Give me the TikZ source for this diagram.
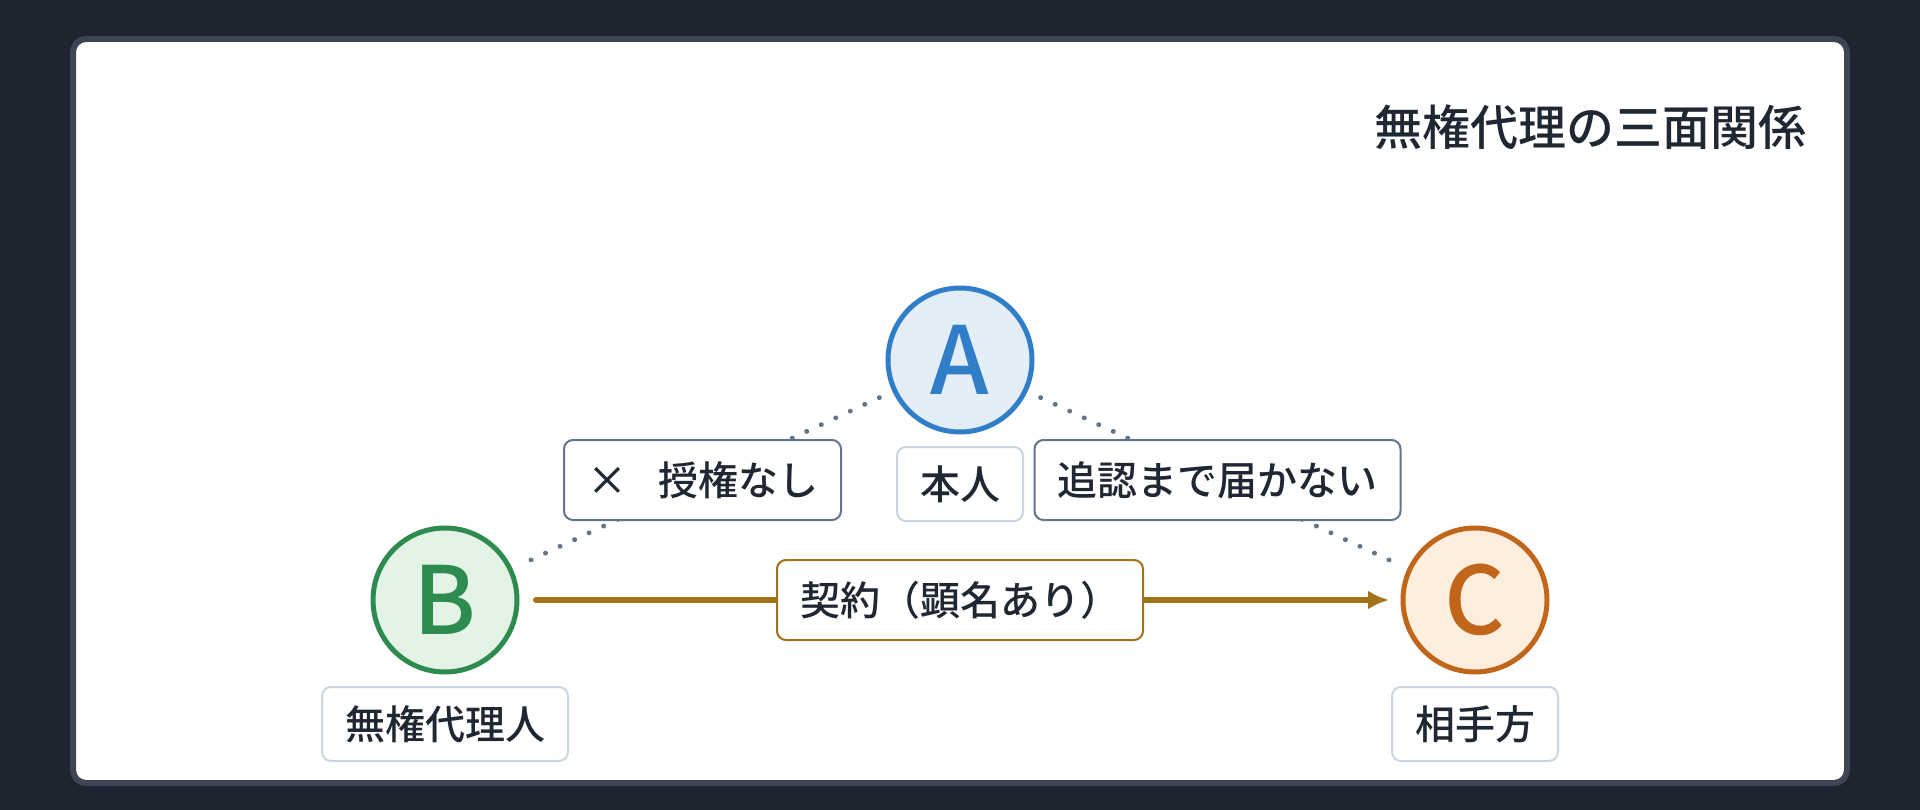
\documentclass[tikz,border=0pt]{standalone}
\usepackage{fontspec}
\setmainfont{Noto Sans CJK JP Medium}
\usetikzlibrary{arrows.meta, positioning}

\definecolor{pagebg}{HTML}{1E2430}
\definecolor{cardline}{HTML}{3D4554}
\definecolor{ink}{HTML}{1F2733}
\definecolor{slate}{HTML}{64748B}
\definecolor{paleline}{HTML}{CBD5E1}
\definecolor{gold}{HTML}{A0721A}
\definecolor{blueA}{HTML}{2F7EC7}
\definecolor{blueAfill}{HTML}{E4EEF9}
\definecolor{greenB}{HTML}{2E8B4F}
\definecolor{greenBfill}{HTML}{E3F4E6}
\definecolor{orangeC}{HTML}{C0651A}
\definecolor{orangeCfill}{HTML}{FDEEDD}

\begin{document}
\begin{tikzpicture}[x=1pt, y=-1pt, node distance=15pt, outer sep=0pt]

\tikzstyle{party}=[circle, line width=5pt, minimum size=144pt, inner sep=0pt, font=\fontsize{94}{94}\selectfont]
\tikzstyle{namebox}=[rectangle, solid, rounded corners=9pt, draw=paleline, line width=2pt, fill=white, text=ink, minimum height=74pt, inner xsep=23pt, font=\fontsize{40}{40}\selectfont]
\tikzstyle{edgebox}=[namebox, draw=slate, minimum height=80pt]
\tikzstyle{dealbox}=[edgebox, draw=gold]
\tikzstyle{dotline}=[draw=slate, line width=5pt, line cap=round, dash pattern=on 0.01pt off 16pt, shorten <=17pt, shorten >=17pt]

\fill[pagebg] (0,0) rectangle (1920,810);
\draw[line width=6pt, draw=cardline, fill=white, rounded corners=13pt] (73,39) rectangle (1847,783);

\node[anchor=east, inner sep=0pt, text=ink, font=\fontsize{48}{48}\selectfont] (title) at (1806,127) {無権代理の三面関係};

\node[party, draw=blueA, fill=blueAfill, text=blueA] (A) at (960,360) {A};
\node[party, draw=greenB, fill=greenBfill, text=greenB] (B) at (445,600) {B};
\node[party, draw=orangeC, fill=orangeCfill, text=orangeC] (C) at (1475,600) {C};

\node[namebox] (principal) [below = of A] {本人};
\node[namebox] (agent) [below = of B] {無権代理人};
\node[namebox] (counter) [below = of C] {相手方};

\draw[dotline] (A) -- node[edgebox] (noauth) {×\hspace{31pt}授権なし} (B);
\draw[dotline] (A) -- node[edgebox] (noratify) {追認まで届かない} (C);
\draw[-{Latex[length=21pt,width=19pt]}, gold, line width=6pt, line cap=round, shorten <=19pt, shorten >=14pt] (B) -- node[dealbox, text=ink] (deal) {契約（顕名あり）} (C);
\end{tikzpicture}
\end{document}
